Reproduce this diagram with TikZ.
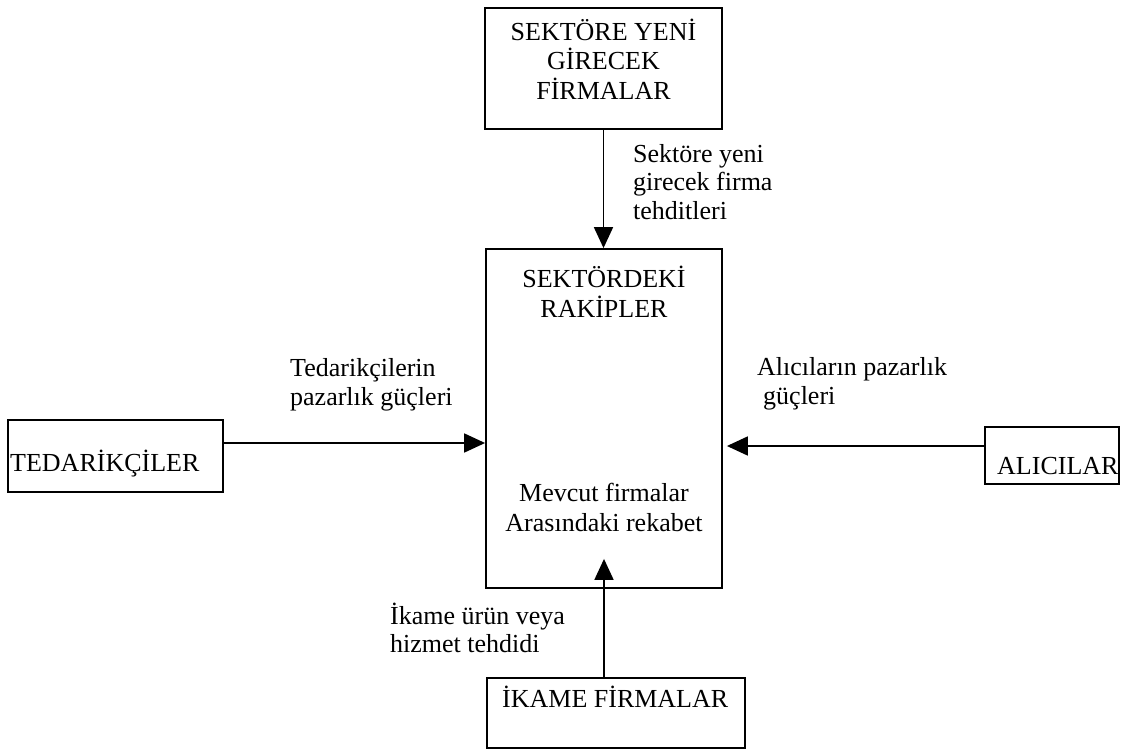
\documentclass[tikz,border=0pt]{standalone}
\usepackage{fontspec}
\setmainfont{Liberation Serif}
\usetikzlibrary{arrows.meta}

\begin{document}
\begin{tikzpicture}[x=1pt,y=-1pt,
  kutu/.style={draw, line width=1.8pt, inner sep=0pt},
  yazi/.style={font=\fontsize{26}{29.5}\selectfont, inner sep=0pt, align=center},
  etiket/.style={font=\fontsize{26}{28.5}\selectfont, inner sep=0pt, align=left, anchor=west},
  ok/.style={line width=1.8pt, -{Triangle[length=21pt,width=19pt]}}]
\useasboundingbox (0,0) rectangle (1122,749);

\node[kutu, minimum width=237pt, minimum height=121pt] (yeni) at (603.5,68.5) {};
\node[yazi] (yeniYazi) at (603.5,59) {SEKTÖRE YENİ\\GİRECEK\\FİRMALAR};
\node[etiket] (yeniEtiket) at (633,182) {Sektöre yeni\\girecek firma\\tehditleri};

\node[kutu, minimum width=236pt, minimum height=339pt] (rakip) at (604,418.5) {};
\node[yazi] (rakipYazi) at (604,292) {SEKTÖRDEKİ\\RAKİPLER};
\node[yazi] (mevcutYazi) at (604,507.5) {Mevcut firmalar\\Arasındaki rekabet};

\node[kutu, minimum width=215pt, minimum height=72pt] (ted) at (115.5,456) {};
\node[yazi, anchor=base west] (tedYazi) at (10,471) {TEDARİKÇİLER};
\node[etiket] (tedEtiket) at (290,385) {Tedarikçilerin\\pazarlık güçleri};

\node[kutu, minimum width=134pt, minimum height=57pt] (alici) at (1052,455.5) {};
\node[yazi, anchor=base west] (aliciYazi) at (997,474) {ALICILAR};
\node[etiket] (aliciEtiket) at (757,384) {Alıcıların pazarlık\\\hspace*{6pt}güçleri};

\node[kutu, minimum width=258pt, minimum height=70pt] (ikame) at (616,713) {};
\node[yazi, anchor=base west] (ikameYazi) at (502,707) {İKAME FİRMALAR};
\node[etiket] (ikameEtiket) at (390,628) {İkame ürün veya\\hizmet tehdidi};

\draw[ok] (yeni.south) -- (yeni.south |- rakip.north);
\draw[ok] ([yshift=13pt]ted.east) -- ([yshift=13pt]ted.east -| rakip.west);
\draw[ok, shorten >=4pt] ([yshift=9.5pt]alici.west) -- ([yshift=9.5pt]alici.west -| rakip.east);
\draw[ok] (rakip.south |- ikame.north) -- ([yshift=30pt]rakip.south);

\end{tikzpicture}
\end{document}
